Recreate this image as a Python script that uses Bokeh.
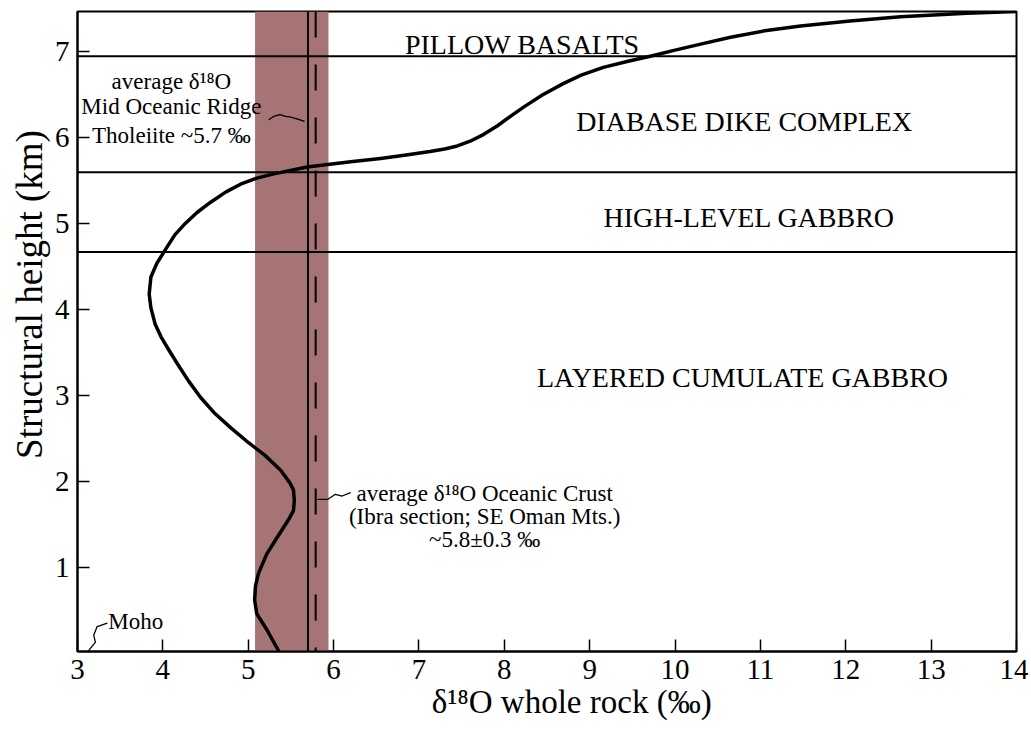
from bokeh.plotting import figure
from bokeh.models import Span, BoxAnnotation, Label, FixedTicker
from bokeh.embed import file_html
from bokeh.resources import INLINE

# ---- data ----
curve_x = [5.36, 5.22, 5.10, 5.075, 5.085, 5.12, 5.22, 5.34, 5.47, 5.53, 5.54, 5.53, 5.49, 5.38,
           5.20, 4.98, 4.80, 4.60, 4.44, 4.30, 4.17, 4.07, 3.98, 3.91, 3.86, 3.84, 3.86, 3.93,
           4.05, 4.14, 4.26, 4.40, 4.56, 4.74, 4.91, 5.10, 5.30, 5.69, 6.20, 6.55, 6.85, 7.13,
           7.30, 7.45, 7.60, 7.76, 7.92, 8.10, 8.23, 8.45, 8.69, 8.90, 9.16, 9.45, 9.71, 10.00,
           10.30, 10.65, 11.05, 11.47, 12.05, 12.64, 13.42, 14.0]
curve_y = [0.02, 0.27, 0.46, 0.62, 0.78, 0.93, 1.16, 1.35, 1.55, 1.66, 1.78, 1.90, 1.98, 2.13,
           2.30, 2.47, 2.62, 2.80, 2.98, 3.17, 3.37, 3.53, 3.68, 3.83, 4.02, 4.18, 4.38, 4.54,
           4.73, 4.87, 5.00, 5.13, 5.25, 5.37, 5.46, 5.53, 5.58, 5.66, 5.72, 5.76, 5.80, 5.84,
           5.87, 5.905, 5.96, 6.04, 6.14, 6.27, 6.36, 6.50, 6.63, 6.73, 6.82, 6.89, 6.95, 7.02,
           7.09, 7.17, 7.245, 7.30, 7.36, 7.41, 7.45, 7.47]

layer_boundaries = [6.95, 5.60, 4.67]
layer_names = ["PILLOW BASALTS", "DIABASE DIKE COMPLEX", "HIGH-LEVEL GABBRO", "LAYERED CUMULATE GABBRO"]
layer_label_x = [8.21, 10.81, 10.87, 10.79]
layer_label_y = [7.09, 6.19, 5.07, 3.21]

crust_band = [5.08, 5.94]
mort_avg = 5.70
crust_avg = 5.79

x_ticks = [3, 4, 5, 6, 7, 8, 9, 10, 11, 12, 13, 14]
y_ticks = [1, 2, 3, 4, 5, 6, 7]

mor_text = ["average δ¹⁸O", "Mid Oceanic Ridge", "Tholeiite ~5.7 ‰"]
mor_text_x = 4.10
mor_text_y = [6.65, 6.36, 6.03]
mor_leader_x = [5.24, 5.30, 5.37, 5.44, 5.50, 5.57, 5.66]
mor_leader_y = [6.21, 6.25, 6.27, 6.25, 6.24, 6.22, 6.19]

crust_text = ["average δ¹⁸O Oceanic Crust", "(Ibra section; SE Oman Mts.)", "~5.8±0.3 ‰"]
crust_text_x = 7.77
crust_text_y = [1.86, 1.59, 1.32]
crust_leader_x = [5.81, 5.93, 6.02, 6.10, 6.20]
crust_leader_y = [1.79, 1.79, 1.85, 1.83, 1.87]

moho_text = "Moho"
moho_text_x = 3.36
moho_text_y = 0.37
moho_leader_x = [3.35, 3.23, 3.19, 3.21, 3.13]
moho_leader_y = [0.35, 0.31, 0.21, 0.13, 0.03]

NBSP = "\u00a0"
x_title = NBSP * 6 + "δ¹⁸O whole rock (‰)"
y_title = NBSP * 8 + "Structural height (km)"

FONT = "Liberation Serif"

p = figure(width=1028, height=730, x_range=(3, 14), y_range=(0.02, 7.47),
           output_backend="svg", toolbar_location=None,
           min_border_left=77, min_border_right=12, min_border_top=11, min_border_bottom=79)
p.background_fill_color = "white"
p.border_fill_color = "white"
p.grid.visible = False
p.outline_line_color = "black"
p.outline_line_width = 2
p.outline_line_alpha = 1

for ax in (p.xaxis[0], p.yaxis[0]):
    ax.axis_line_width = 2
    ax.axis_line_color = "black"
    ax.major_tick_in = 12
    ax.major_tick_out = 0
    ax.major_tick_line_width = 1.5
    ax.minor_tick_line_color = None
    ax.major_label_text_font = FONT
    ax.major_label_text_font_size = "29px"
    ax.major_label_text_color = "black"
    ax.axis_label_text_font = FONT
    ax.axis_label_text_font_style = "normal"
    ax.axis_label_text_color = "black"
p.xaxis[0].ticker = FixedTicker(ticks=x_ticks)
p.yaxis[0].ticker = FixedTicker(ticks=y_ticks)
p.xaxis[0].major_label_standoff = 8
p.yaxis[0].major_label_standoff = 8
p.xaxis[0].axis_label = x_title
p.yaxis[0].axis_label = y_title
p.xaxis[0].axis_label_text_font_size = "33px"
p.yaxis[0].axis_label_text_font_size = "37px"
p.xaxis[0].axis_label_standoff = 2
p.yaxis[0].axis_label_standoff = 2

band = BoxAnnotation(left=crust_band[0], right=crust_band[1], fill_color="#a67474",
                     fill_alpha=1.0, line_alpha=0, level="underlay")
p.add_layout(band)

for yb in layer_boundaries:
    p.add_layout(Span(location=yb, dimension="width", line_color="black", line_width=2))

p.add_layout(Span(location=mort_avg, dimension="height", line_color="black", line_width=2))
p.add_layout(Span(location=crust_avg, dimension="height", line_color="black", line_width=2,
                  line_dash="26 27"))

p.line(curve_x, curve_y, line_color="black", line_width=3.5, line_join="round", line_cap="round")

for lx, ly in ((mor_leader_x, mor_leader_y), (crust_leader_x, crust_leader_y), (moho_leader_x, moho_leader_y)):
    p.line(lx, ly, line_color="black", line_width=1.3, line_join="round")

for name, lx, ly in zip(layer_names, layer_label_x, layer_label_y):
    p.add_layout(Label(x=lx, y=ly, text=name, text_align="center", text_baseline="alphabetic",
                       text_font=FONT, text_font_size="28px", text_color="black"))

for t, ty in zip(mor_text, mor_text_y):
    p.add_layout(Label(x=mor_text_x, y=ty, text=t, text_align="center", text_baseline="alphabetic",
                       text_font=FONT, text_font_size="23px", text_color="black"))

for t, ty in zip(crust_text, crust_text_y):
    p.add_layout(Label(x=crust_text_x, y=ty, text=t, text_align="center", text_baseline="alphabetic",
                       text_font=FONT, text_font_size="23px", text_color="black"))

p.add_layout(Label(x=moho_text_x, y=moho_text_y, text=moho_text, text_align="left",
                   text_baseline="alphabetic", text_font=FONT, text_font_size="23px", text_color="black"))

open("out.html", "w").write(file_html(p, INLINE))
